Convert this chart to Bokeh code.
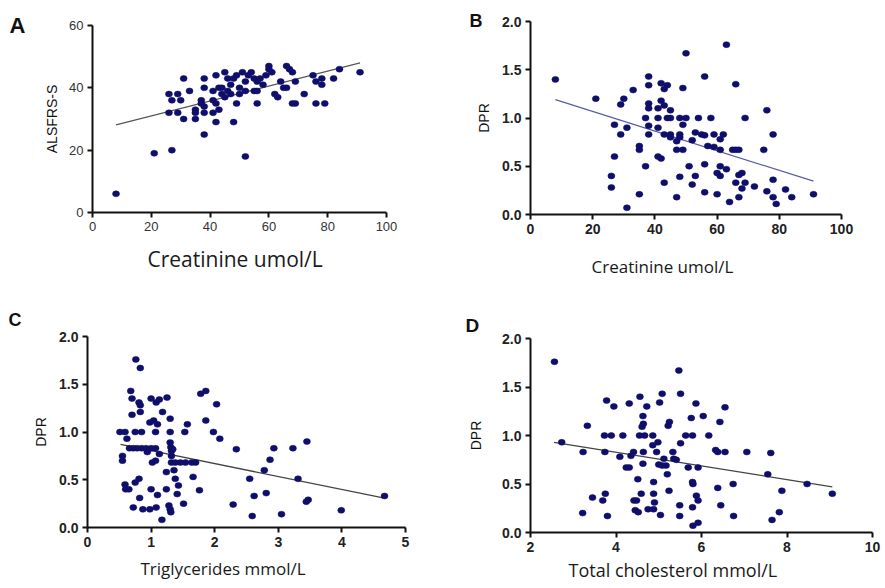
from bokeh.plotting import figure
from bokeh.layouts import row, column
from bokeh.models import Title, FixedTicker, NumeralTickFormatter, Range1d
from bokeh.embed import file_html
from bokeh.resources import INLINE

# ---------------- data ----------------
# Panel A: Creatinine vs ALSFRS-S
a_x = [8, 21, 27, 52, 38, 26, 29, 26, 29, 27, 30, 31, 31, 33, 35, 35, 35, 37, 37, 38, 38, 38, 38,
       41, 41, 41, 42, 42, 42, 43, 43, 44, 44, 45, 45, 46, 46, 47, 47, 48, 48, 49, 49, 50, 50, 51,
       52, 52, 53, 54, 55, 55, 56, 56, 56, 57, 58, 59, 60, 60, 61, 62, 63, 64, 65, 66, 66, 67, 68,
       68, 69, 69, 72, 75, 76, 76, 78, 78, 79, 82, 84, 91]
a_y = [6, 19, 20, 18, 25, 38, 38, 32, 32, 36, 36, 43, 30, 39, 33, 32, 30, 36, 35, 34, 43, 40, 32,
       39, 32, 36, 44, 29, 35, 33, 40, 38, 40, 45, 37, 43, 39, 38, 41, 43, 29, 35, 44, 38, 40, 45,
       39, 42, 44, 45, 39, 43, 42, 35, 39, 43, 41, 44, 47, 46, 45, 38, 37, 42, 40, 47, 40, 46, 45,
       35, 35, 42, 38, 44, 35, 42, 43, 41, 35, 43, 46, 45]
a_fit_x = [8, 91]
a_fit_y = [28.1, 48.0]

# Panel B: Creatinine vs DPR
b_x = [8, 21, 26, 26, 27, 27, 29, 29, 30, 31, 31, 33, 35, 35, 35, 37, 37, 38, 38, 38, 38, 38, 38,
       41, 41, 41, 41, 42, 42, 42, 43, 43, 43, 43, 44, 44, 45, 45, 45, 45, 47, 47, 47, 48, 48, 48,
       48, 49, 49, 49, 50, 50, 51, 52, 52, 53, 53, 54, 55, 56, 56, 56, 56, 57, 58, 59, 59, 60, 60,
       61, 61, 61, 61, 62, 63, 63, 64, 65, 66, 66, 66, 67, 67, 67, 68, 68, 69, 69, 72, 75, 76, 76,
       78, 78, 78, 79, 82, 84, 91]
b_y = [1.40, 1.20, 0.40, 0.28, 0.93, 0.60, 1.14, 0.83, 1.20, 0.90, 0.07, 1.29, 0.71, 0.67, 0.21,
       1.00, 0.50, 1.43, 1.34, 1.15, 1.10, 0.92, 0.83, 1.10, 1.00, 0.90, 0.60, 1.36, 1.18, 0.58,
       1.30, 1.13, 0.83, 0.33, 1.34, 1.00, 1.00, 1.08, 0.83, 0.80, 0.67, 0.76, 0.18, 1.00, 0.83,
       0.80, 0.39, 1.31, 0.93, 0.67, 1.67, 1.00, 0.50, 0.77, 0.31, 0.85, 0.40, 1.00, 0.83, 1.43,
       0.82, 0.52, 0.23, 0.71, 1.00, 0.83, 0.70, 0.43, 0.21, 0.78, 0.67, 0.50, 0.40, 0.83, 1.76,
       0.47, 0.13, 0.67, 1.35, 0.67, 0.33, 0.67, 0.41, 0.18, 0.43, 0.27, 1.00, 0.33, 0.29, 0.67,
       1.08, 0.24, 0.83, 0.36, 0.18, 0.11, 0.26, 0.18, 0.21]
b_fit_x = [8, 91]
b_fit_y = [1.19, 0.345]

# Panel C: Triglycerides vs DPR
c_x = [0.51, 0.59, 0.62, 0.55, 0.55, 0.59, 0.60, 0.65, 0.66, 0.68, 0.70, 0.70, 0.72, 0.72, 0.75,
       0.76, 0.75, 0.78, 0.81, 0.81, 0.82, 0.83, 0.83, 0.83, 0.85, 0.85, 0.87, 0.92, 0.94, 0.98,
       0.98, 1.00, 1.00, 1.00, 1.02, 1.04, 1.07, 1.07, 1.07, 1.08, 1.08, 1.10, 1.13, 1.13, 1.10,
       1.17, 1.18, 1.24, 1.24, 1.25, 1.28, 1.30, 1.30, 1.30, 1.30, 1.31, 1.32, 1.32, 1.31, 1.32,
       1.34, 1.36, 1.38, 1.38, 1.41, 1.43, 1.46, 1.51, 1.53, 1.54, 1.57, 1.64, 1.66, 1.70, 1.76,
       1.78, 1.86, 1.86, 1.98, 2.03, 2.08, 2.29, 2.34, 2.55, 2.59, 2.62, 2.78, 2.81, 2.87, 2.93,
       3.05, 3.23, 3.31, 3.44, 3.47, 3.45, 3.99, 4.67]
c_y = [1.00, 1.00, 0.93, 0.75, 0.70, 0.45, 0.40, 0.40, 0.83, 1.43, 1.35, 1.18, 0.83, 0.21, 0.47,
       1.76, 1.00, 0.83, 1.31, 0.51, 0.31, 1.67, 1.28, 1.21, 1.00, 0.83, 0.19, 0.83, 0.79, 1.10,
       0.19, 1.35, 0.83, 0.40, 0.68, 1.12, 1.00, 0.83, 0.70, 1.31, 0.21, 0.34, 1.34, 0.77, 1.08,
       0.08, 1.21, 0.58, 0.40, 1.36, 0.23, 1.14, 1.00, 0.89, 0.19, 0.84, 0.80, 0.75, 0.16, 0.68,
       0.82, 0.60, 0.68, 0.51, 0.35, 0.44, 0.68, 0.25, 1.00, 0.68, 1.08, 0.68, 0.53, 0.68, 0.39,
       1.40, 1.43, 1.12, 1.00, 1.29, 0.93, 0.24, 0.82, 0.51, 0.12, 0.33, 0.60, 0.36, 0.71, 0.83,
       0.14, 0.83, 0.51, 0.27, 0.29, 0.90, 0.18, 0.33]
c_fit_x = [0.52, 4.65]
c_fit_y = [0.87, 0.31]

# Panel D: Total cholesterol vs DPR
d_x = [2.56, 2.73, 3.23, 3.22, 3.33, 3.45, 3.69, 3.75, 3.74, 3.73, 3.89, 4.16, 3.80, 3.78, 3.95,
       4.09, 4.24, 4.31, 4.31, 4.35, 4.41, 4.42, 4.48, 4.45, 4.52, 4.56, 4.51, 4.59, 4.61, 4.64,
       4.63, 4.55, 4.67, 4.86, 4.64, 4.63, 4.72, 4.86, 4.98, 4.88, 4.88, 4.88, 4.75, 4.90, 4.95,
       5.04, 5.02, 5.08, 5.12, 5.08, 5.17, 5.24, 5.25, 5.22, 5.33, 5.41, 5.47, 5.51, 5.51, 5.49,
       5.49, 5.76, 5.63, 5.79, 5.69, 5.79, 5.79, 5.80, 5.92, 5.87, 5.88, 5.92, 5.92, 5.80, 6.04,
       6.17, 6.33, 6.38, 6.55, 6.43, 6.55, 6.38, 6.45, 6.74, 6.75, 7.06, 7.55, 7.62, 7.65, 7.82,
       7.88, 8.47, 9.06, 5.20, 5.35, 5.00]
d_y = [1.76, 0.93, 0.83, 0.20, 1.10, 0.36, 0.33, 0.40, 0.83, 1.00, 1.00, 1.00, 0.17, 1.36, 1.30,
       0.78, 0.67, 0.67, 1.33, 0.79, 0.83, 0.33, 0.33, 0.23, 0.21, 1.40, 0.55, 0.40, 1.09, 1.12,
       1.20, 1.00, 1.00, 1.00, 0.83, 0.71, 1.30, 0.90, 0.93, 0.52, 0.40, 0.24, 0.24, 0.31, 0.83,
       0.18, 1.34, 1.43, 0.76, 0.69, 0.69, 0.43, 1.14, 1.10, 0.83, 0.75, 1.67, 1.43, 0.92, 0.28,
       0.17, 1.18, 1.00, 1.00, 0.67, 0.52, 0.26, 0.07, 0.10, 1.33, 0.38, 0.33, 0.67, 0.50, 1.20,
       1.00, 0.85, 0.83, 0.83, 1.14, 1.29, 0.46, 0.28, 0.50, 0.17, 0.83, 0.60, 0.82, 0.13, 0.21,
       0.43, 0.50, 0.40, 0.60, 0.76, 0.70]
d_fit_x = [2.55, 9.06]
d_fit_y = [0.93, 0.47]

# tick values
a_xticks = [0, 20, 40, 60, 80, 100]
a_yticks = [0, 20, 40, 60]
b_xticks = [0, 20, 40, 60, 80, 100]
dpr_ticks = [0, 0.5, 1.0, 1.5, 2.0]
c_xticks = [0, 1, 2, 3, 4, 5]
d_xticks = [2, 4, 6, 8, 10]

DOT = "#0f0f6b"


def panel(fig_box, frame, xr, yr, xs, ys, fit_x, fit_y, fit_color, xticks, yticks, yfmt,
          ylabel, ylabel_standoff, xlabel, xlabel_offset, xlabel_standoff, xlabel_size,
          letter, letter_offset, letter_standoff, letter_size, tick_bold):
    fx, fy, fw, fh = fig_box
    L, R, T, B = frame
    p = figure(width=fw, height=fh, x_range=Range1d(*xr), y_range=Range1d(*yr),
               min_border_left=L - fx, min_border_right=fx + fw - R,
               min_border_top=T - fy, min_border_bottom=fy + fh - B,
               output_backend="svg", toolbar_location=None)
    p.outline_line_color = None
    p.xgrid.visible = False
    p.ygrid.visible = False
    p.background_fill_color = "white"
    p.border_fill_color = "white"

    p.line(fit_x, fit_y, line_color=fit_color, line_width=1.3)
    p.ellipse(x=xs, y=ys, width=7, height=6, width_units="screen", height_units="screen",
              fill_color=DOT, line_color=DOT, line_width=0.5)

    for ax in (p.xaxis[0], p.yaxis[0]):
        ax.axis_line_width = 2
        ax.axis_line_color = "#111111"
        ax.major_tick_line_width = 2
        ax.major_tick_line_color = "#111111"
        ax.major_tick_in = 0
        ax.major_tick_out = 5
        ax.minor_tick_line_color = None
        ax.major_label_text_font = "Liberation Sans"
        ax.major_label_text_font_size = "14px" if tick_bold else "13px"
        ax.major_label_text_font_style = "bold" if tick_bold else "normal"
        ax.major_label_text_color = "#222222" if tick_bold else "#333333"
        ax.major_label_standoff = 4
    p.xaxis.ticker = FixedTicker(ticks=xticks)
    p.yaxis.ticker = FixedTicker(ticks=yticks)
    if yfmt:
        p.yaxis.formatter = NumeralTickFormatter(format=yfmt)

    p.yaxis.axis_label = ylabel
    p.yaxis.axis_label_text_font = "Liberation Sans"
    p.yaxis.axis_label_text_font_size = "14px"
    p.yaxis.axis_label_text_font_style = "normal"
    p.yaxis.axis_label_text_color = "#111111"
    p.yaxis.axis_label_standoff = ylabel_standoff

    # x-axis title, placed below the axis
    p.add_layout(Title(text=xlabel, align="left", offset=xlabel_offset,
                       standoff=xlabel_standoff, vertical_align="bottom",
                       text_font="Open Sans", text_font_size=xlabel_size,
                       text_font_style="normal", text_color="#1a1a1a"), "below")

    # panel letter
    p.title.text = letter
    p.title.align = "left"
    p.title.offset = letter_offset
    p.title.standoff = letter_standoff
    p.title.vertical_align = "bottom"
    p.title.text_font = "Liberation Sans"
    p.title.text_font_size = letter_size
    p.title.text_font_style = "bold"
    p.title.text_color = "#111111"
    return p


pa = panel((0, 0, 448, 300), (92, 386, 25, 212), (0, 100), (0, 60), a_x, a_y,
           a_fit_x, a_fit_y, "#555555", a_xticks, a_yticks, None,
           "ALSFRS-S", 6, "Creatinine umol/L", 55, 19, "21px", "A", -83, -25, "22px", False)
pb = panel((448, 0, 436, 300), (530, 841, 21, 214), (0, 100), (0, 2), b_x, b_y,
           b_fit_x, b_fit_y, "#5a5ca6", b_xticks, dpr_ticks, "0.0",
           "DPR", 7, "Creatinine umol/L", 61, 32, "17px", "B", -61, -18, "18px", True)
pc = panel((0, 300, 448, 287), (87, 405, 336, 527), (0, 5), (0, 2), c_x, c_y,
           c_fit_x, c_fit_y, "#444444", c_xticks, dpr_ticks, "0.0",
           "DPR", 7, "Triglycerides  mmol/L", 53, 10, "17px", "C", -79, 13, "18px", True)
pd = panel((448, 300, 436, 287), (530, 872, 338, 532), (2, 10), (0, 2), d_x, d_y,
           d_fit_x, d_fit_y, "#444444", d_xticks, dpr_ticks, "0.0",
           "DPR", 15, "Total cholesterol  mmol/L", 38, 3, "18px", "D", -65, 6, "19px", True)

# each plot wrapped on its own so that the layout does not align their frames
layout = row(column(row(pa), row(pc)), column(row(pb), row(pd)))
open("out.html", "w").write(file_html(layout, INLINE))
